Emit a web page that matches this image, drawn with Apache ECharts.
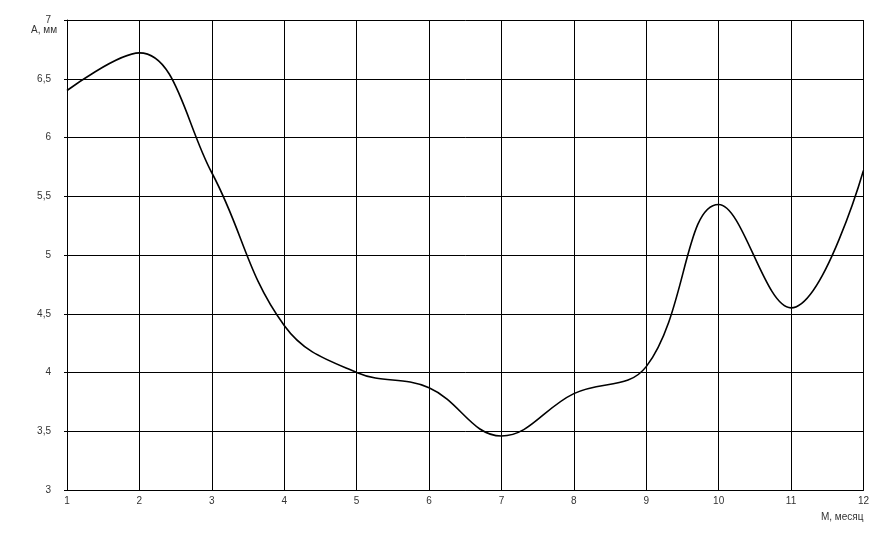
<!DOCTYPE html>
<html><head><meta charset="utf-8">
<script src="https://cdn.jsdelivr.net/npm/echarts@6/dist/echarts.min.js"></script>
<style>body{margin:0;background:#fff}#c{width:872px;height:535px}</style>
</head><body><div id="c"></div>
<script>
const months = [1, 2, 3, 4, 5, 6, 7, 8, 9, 10, 11, 12];
const amplitude = [6.4, 6.72, 5.7, 4.4, 4.0, 3.87, 3.46, 3.82, 4.05, 5.43, 4.55, 5.72];

const chart = echarts.init(document.getElementById('c'));
const lbl = { color: '#333', fontSize: 10, fontFamily: 'Liberation Sans' };
chart.setOption({
  animation: false,
  grid: { left: 67, right: 5, top: 20, bottom: 45 },
  xAxis: {
    type: 'value', min: 1, max: 12, interval: 1,
    name: 'М, месяц', nameLocation: 'end', nameGap: 0,
    nameTextStyle: { ...lbl, align: 'right', verticalAlign: 'top', padding: [22, 0, 0, 0] },
    axisLine: { lineStyle: { color: '#000' } },
    axisTick: { show: false },
    axisLabel: { ...lbl, margin: 6 },
    splitLine: { lineStyle: { color: '#000', width: 1 } }
  },
  yAxis: {
    type: 'value', min: 3, max: 7, interval: 0.5,
    name: 'А, мм', nameLocation: 'end', nameGap: 0,
    nameTextStyle: { ...lbl, align: 'right', verticalAlign: 'top', padding: [5, 10, 0, 0] },
    axisLine: { show: true, lineStyle: { color: '#000' } },
    axisTick: { show: true, length: 3, inside: false, lineStyle: { color: '#000' } },
    axisLabel: { ...lbl, margin: 16, formatter: v => String(v).replace('.', ',') },
    splitLine: { lineStyle: { color: '#000', width: 1 } }
  },
  series: [{
    type: 'line', smooth: 0.4, symbol: 'none',
    data: months.map((m, i) => [m, amplitude[i]]),
    lineStyle: { color: '#000', width: 1.6 }
  }]
});
</script></body></html>
